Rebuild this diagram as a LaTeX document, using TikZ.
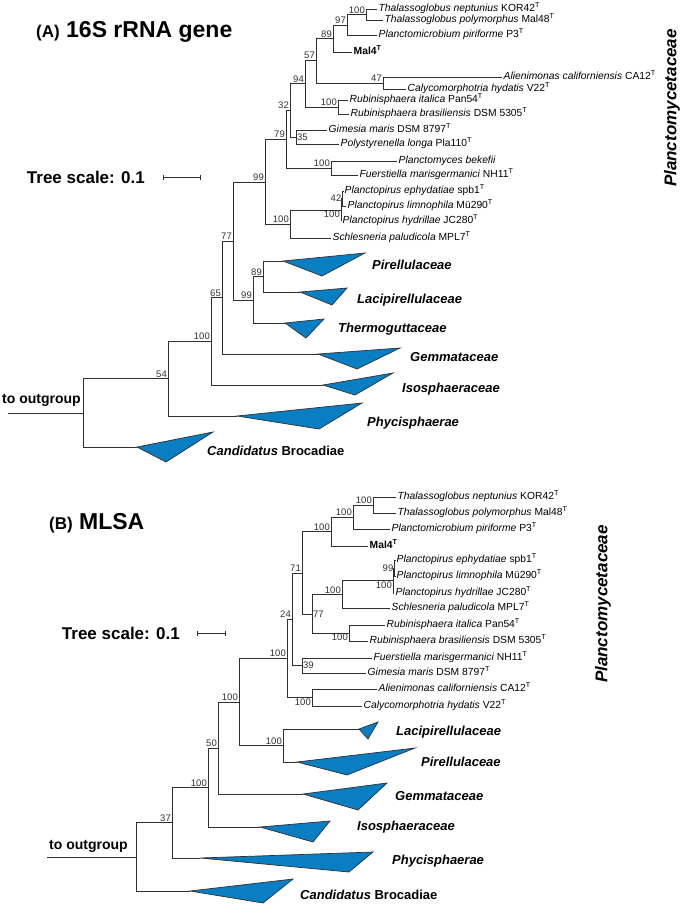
\documentclass[tikz,border=0pt]{standalone}
\usepackage{fontspec}
\setmainfont{Liberation Sans}
\usetikzlibrary{arrows.meta,positioning}
\definecolor{Clade}{HTML}{0A7EC2}
\definecolor{Branch}{HTML}{303030}
\newcommand\Tst{\textsuperscript{T}}

\begin{document}
\begin{tikzpicture}[x=1pt,y=-1pt,
  br/.style={draw=Branch,line width=0.8pt},
  tip/.style={anchor=west,inner xsep=1.5pt,inner ysep=0.2pt,font=\fontsize{10.3}{12}\selectfont,text height=7pt,text depth=2pt},
  bs/.style={inner sep=1pt,font=\fontsize{9.5}{10}\selectfont,text=Branch},
  clade/.style={fill=Clade,draw=Branch,line width=0.7pt},
  cladelab/.style={anchor=west,inner sep=0pt,font=\fontsize{13}{15}\selectfont\bfseries\itshape,text height=9.5pt,text depth=2.5pt},
  family/.style={rotate=90,inner sep=0pt,font=\fontsize{17}{19}\selectfont\bfseries\itshape},
  title/.style={anchor=west,inner sep=0pt,font=\fontsize{23}{26}\selectfont\bfseries},
  scalelab/.style={inner sep=0pt,font=\fontsize{17}{19}\selectfont\bfseries},
  outlab/.style={anchor=west,inner sep=0pt,font=\fontsize{14}{16}\selectfont\bfseries},
  scalebar/.style={br,{Bar[width=5pt]}-{Bar[width=5pt]}}]
\useasboundingbox (0,0) rectangle (685,906);

% ---------------- (A) 16S rRNA gene ----------------
\node[title] (titA) at (36,32) {{\fontsize{17}{20}\selectfont (A)} 16S rRNA gene};
\coordinate (sA1) at (163,177); \coordinate (sA2) at (201,177);
\draw[scalebar] (sA1) -- (sA2);
\node[scalelab,anchor=east,left=18pt of sA1] (scA) {Tree scale: 0.1};
\node[family] (famA) at (672,108) {Planctomycetaceae};

% internal nodes
\coordinate (aOut) at (8,413);  \coordinate (aR) at (83,413);
\coordinate (a54) at (168,378.5); \coordinate (a100) at (211,341);
\coordinate (a65) at (222,297.5); \coordinate (a77) at (233,241);
\coordinate (a99) at (265,182);   \coordinate (a99b) at (253,300);
\coordinate (a89b) at (263,276.5); \coordinate (aPS) at (290,224);
\coordinate (aPl) at (341,210);   \coordinate (a42) at (342.5,198.5);
\coordinate (a79) at (286,139);   \coordinate (aPm) at (331,168);
\coordinate (a32) at (290,110);   \coordinate (a35) at (296,137);
\coordinate (a94) at (305,83.5);  \coordinate (aRub) at (338,107);
\coordinate (a57) at (316,60);    \coordinate (a47) at (383,83);
\coordinate (a89) at (333,38.5);  \coordinate (a97) at (347,25);
\coordinate (aTh) at (366,14.5);

% tips
\node[tip] (tAThN) at (377,9) {\textit{Thalassoglobus neptunius} KOR42\Tst};
\node[tip] (tAThP) at (383,20) {\textit{Thalassoglobus polymorphus} Mal48\Tst};
\node[tip] (tAPmp) at (377,35) {\textit{Planctomicrobium piriforme} P3\Tst};
\node[tip] (tAMal) at (352,52) {\textbf{Mal4\Tst}};
\node[tip] (tAAli) at (502,77) {\textit{Alienimonas californiensis} CA12\Tst};
\node[tip] (tACal) at (406,89) {\textit{Calycomorphotria hydatis} V22\Tst};
\node[tip] (tARbI) at (348,100) {\textit{Rubinisphaera italica} Pan54\Tst};
\node[tip] (tARbB) at (349,114) {\textit{Rubinisphaera brasiliensis} DSM 5305\Tst};
\node[tip] (tAGim) at (327,130) {\textit{Gimesia maris} DSM 8797\Tst};
\node[tip] (tAPol) at (339,144) {\textit{Polystyrenella longa} Pla110\Tst};
\node[tip] (tAPlb) at (397,161) {\textit{Planctomyces bekefii}};
\node[tip] (tAFue) at (358,175) {\textit{Fuerstiella marisgermanici} NH11\Tst};
\node[tip] (tAPeph) at (343,191) {\textit{Planctopirus ephydatiae} spb1\Tst};
\node[tip] (tAPlim) at (346,206) {\textit{Planctopirus limnophila} Mü290\Tst};
\node[tip] (tAPhyd) at (341,221) {\textit{Planctopirus hydrillae} JC280\Tst};
\node[tip] (tASch) at (331,238) {\textit{Schlesneria paludicola} MPL7\Tst};

% collapsed clades
\coordinate (cAPir) at (283,261);  \coordinate (cALac) at (300,292);
\coordinate (cAThe) at (285,323);  \coordinate (cAGem) at (318,354);
\coordinate (cAIso) at (323,385);  \coordinate (cAPhy) at (237,416);
\coordinate (cABro) at (137,447);
\filldraw[clade] (cAPir) -- (365,253) -- (322,276) -- cycle;
\filldraw[clade] (cALac) -- (347,288) -- (332,305) -- cycle;
\filldraw[clade] (cAThe) -- (324,319) -- (306,338) -- cycle;
\filldraw[clade] (cAGem) -- (400,348) -- (357,369) -- cycle;
\filldraw[clade] (cAIso) -- (393,373) -- (355,395) -- cycle;
\filldraw[clade] (cAPhy) -- (362,403) -- (319,429) -- cycle;
\filldraw[clade] (cABro) -- (213,432) -- (166,462) -- cycle;
\node[cladelab] (kAPir) at (372,266) {Pirellulaceae};
\node[cladelab] (kALac) at (357,300) {Lacipirellulaceae};
\node[cladelab] (kAThe) at (338,329) {Thermoguttaceae};
\node[cladelab] (kAGem) at (410,358) {Gemmataceae};
\node[cladelab] (kAIso) at (402,389) {Isosphaeraceae};
\node[cladelab] (kAPhy) at (367,423) {Phycisphaerae};
\node[cladelab] (kABro) at (207,452) {Candidatus \upshape Brocadiae};
\node[outlab] (oA) at (2,400) {to outgroup};

% branches
\draw[br] (aOut) -- (aR);
\draw[br] (aR) |- (a54) (aR) |- (cABro);
\draw[br] (a54) |- (a100) (a54) |- (cAPhy);
\draw[br] (a100) |- (a65) (a100) |- (cAIso);
\draw[br] (a65) |- (a77) (a65) |- (cAGem);
\draw[br] (a77) |- (a99) (a77) |- (a99b);
\draw[br] (a99b) |- (a89b) (a99b) |- (cAThe);
\draw[br] (a89b) |- (cAPir) (a89b) |- (cALac);
\draw[br] (a99) |- (a79) (a99) |- (aPS);
\draw[br] (aPS) |- (aPl) (aPS) |- (tASch.west);
\draw[br] (aPl) |- (a42) (aPl) |- (tAPhyd.west);
\draw[br] (a42) |- (tAPeph.west) (a42) |- (tAPlim.west);
\draw[br] (a79) |- (a32) (a79) |- (aPm);
\draw[br] (aPm) |- (tAPlb.west) (aPm) |- (tAFue.west);
\draw[br] (a32) |- (a94) (a32) |- (a35);
\draw[br] (a35) |- (tAGim.west) (a35) |- (tAPol.west);
\draw[br] (a94) |- (a57) (a94) |- (aRub);
\draw[br] (aRub) |- (tARbI.west) (aRub) |- (tARbB.west);
\draw[br] (a57) |- (a89) (a57) |- (a47);
\draw[br] (a47) |- (tAAli.west) (a47) |- (tACal.west);
\draw[br] (a89) |- (a97) (a89) |- (tAMal.west);
\draw[br] (a97) |- (aTh) (a97) |- (tAPmp.west);
\draw[br] (aTh) |- (tAThN.west) (aTh) |- (tAThP.west);

% support values
\node[bs,above left] (lA54) at (a54) {54};
\node[bs,above left] (lA100) at (a100) {100};
\node[bs,above left] (lA65) at (a65) {65};
\node[bs,above left] (lA77) at (a77) {77};
\node[bs,above left] (lA99) at (a99) {99};
\node[bs,above left] (lA99b) at (a99b) {99};
\node[bs,above left] (lA89b) at (a89b) {89};
\node[bs,above left] (lAPS) at (aPS) {100};
\node[bs,below left] (lAPl) at (aPl) {100};
\node[bs,left] (lA42) at (a42) {42};
\node[bs,above left] (lA79) at (a79) {79};
\node[bs,above left] (lAPm) at (aPm) {100};
\node[bs,above left] (lA32) at (a32) {32};
\node[bs,right] (lA35) at (a35) {35};
\node[bs,above left] (lA94) at (a94) {94};
\node[bs,above left] (lARub) at (aRub) {100};
\node[bs,above left] (lA57) at (a57) {57};
\node[bs,above left] (lA47) at (a47) {47};
\node[bs,above left] (lA89) at (a89) {89};
\node[bs,above left] (lA97) at (a97) {97};
\node[bs,above left] (lATh) at (aTh) {100};

% ---------------- (B) MLSA ----------------
\node[title] (titB) at (49,523) {{\fontsize{17}{20}\selectfont (B)} MLSA};
\coordinate (sB1) at (197,633); \coordinate (sB2) at (226,633);
\draw[scalebar] (sB1) -- (sB2);
\node[scalelab,anchor=east,left=17pt of sB1] (scB) {Tree scale: 0.1};
\node[family] (famB) at (603,604) {Planctomycetaceae};

\coordinate (bOut) at (47,857);  \coordinate (bR) at (136,857);
\coordinate (b37) at (172,822.5); \coordinate (b100) at (208,787.5);
\coordinate (b50) at (218,748);   \coordinate (b100c) at (239,702);
\coordinate (b100d) at (287,658); \coordinate (b24) at (292,619);
\coordinate (b71) at (302,573);   \coordinate (b100t) at (331,531.5);
\coordinate (b100s) at (353,517); \coordinate (bTh) at (373,505);
\coordinate (b77) at (312,614);   \coordinate (bPS) at (342,594.5);
\coordinate (bPl) at (393,580.5); \coordinate (b99) at (394.5,568);
\coordinate (bRub) at (349,633);  \coordinate (b39) at (302,665.5);
\coordinate (bAl) at (312,697.5); \coordinate (bLP) at (283,745.5);

\node[tip] (tBThN) at (396,497) {\textit{Thalassoglobus neptunius} KOR42\Tst};
\node[tip] (tBThP) at (396,513) {\textit{Thalassoglobus polymorphus} Mal48\Tst};
\node[tip] (tBPmp) at (390,529) {\textit{Planctomicrobium piriforme} P3\Tst};
\node[tip] (tBMal) at (368,546) {\textbf{Mal4\Tst}};
\node[tip] (tBPeph) at (395,560) {\textit{Planctopirus ephydatiae} spb1\Tst};
\node[tip] (tBPlim) at (395,576) {\textit{Planctopirus limnophila} Mü290\Tst};
\node[tip] (tBPhyd) at (394,593) {\textit{Planctopirus hydrillae} JC280\Tst};
\node[tip] (tBSch) at (390,608) {\textit{Schlesneria paludicola} MPL7\Tst};
\node[tip] (tBRbI) at (385,625) {\textit{Rubinisphaera italica} Pan54\Tst};
\node[tip] (tBRbB) at (368,641) {\textit{Rubinisphaera brasiliensis} DSM 5305\Tst};
\node[tip] (tBFue) at (372,658) {\textit{Fuerstiella marisgermanici} NH11\Tst};
\node[tip] (tBGim) at (366,673) {\textit{Gimesia maris} DSM 8797\Tst};
\node[tip] (tBAli) at (377,689) {\textit{Alienimonas californiensis} CA12\Tst};
\node[tip] (tBCal) at (362,706) {\textit{Calycomorphotria hydatis} V22\Tst};

\coordinate (cBLac) at (359,729); \coordinate (cBPir) at (297,762);
\coordinate (cBGem) at (303,794); \coordinate (cBIso) at (260,827);
\coordinate (cBPhy) at (200,858); \coordinate (cBBro) at (190,891);
\filldraw[clade] (cBLac) -- (378,722) -- (368,739) -- cycle;
\filldraw[clade] (cBPir) -- (415,748) -- (347,775) -- cycle;
\filldraw[clade] (cBGem) -- (387,783) -- (358,810) -- cycle;
\filldraw[clade] (cBIso) -- (330,821) -- (313,842) -- cycle;
\filldraw[clade] (cBPhy) -- (373,852) -- (349,872) -- cycle;
\filldraw[clade] (cBBro) -- (293,879) -- (263,903) -- cycle;
\node[cladelab] (kBLac) at (396,732) {Lacipirellulaceae};
\node[cladelab] (kBPir) at (421,763) {Pirellulaceae};
\node[cladelab] (kBGem) at (395,797) {Gemmataceae};
\node[cladelab] (kBIso) at (357,827) {Isosphaeraceae};
\node[cladelab] (kBPhy) at (392,861) {Phycisphaerae};
\node[cladelab] (kBBro) at (300,896) {Candidatus \upshape Brocadiae};
\node[outlab] (oB) at (49,846) {to outgroup};

\draw[br] (bOut) -- (bR);
\draw[br] (bR) |- (b37) (bR) |- (cBBro);
\draw[br] (b37) |- (b100) (b37) |- (cBPhy);
\draw[br] (b100) |- (b50) (b100) |- (cBIso);
\draw[br] (b50) |- (b100c) (b50) |- (cBGem);
\draw[br] (b100c) |- (b100d) (b100c) |- (bLP);
\draw[br] (bLP) |- (cBLac) (bLP) |- (cBPir);
\draw[br] (b100d) |- (b24) (b100d) |- (bAl);
\draw[br] (bAl) |- (tBAli.west) (bAl) |- (tBCal.west);
\draw[br] (b24) |- (b71) (b24) |- (b39);
\draw[br] (b39) |- (tBFue.west) (b39) |- (tBGim.west);
\draw[br] (b71) |- (b100t) (b71) |- (b77);
\draw[br] (b77) |- (bPS) (b77) |- (bRub);
\draw[br] (bRub) |- (tBRbI.west) (bRub) |- (tBRbB.west);
\draw[br] (bPS) |- (bPl) (bPS) |- (tBSch.west);
\draw[br] (bPl) |- (b99) (bPl) |- (tBPhyd.west);
\draw[br] (b99) |- (tBPeph.west) (b99) |- (tBPlim.west);
\draw[br] (b100t) |- (b100s) (b100t) |- (tBMal.west);
\draw[br] (b100s) |- (bTh) (b100s) |- (tBPmp.west);
\draw[br] (bTh) |- (tBThN.west) (bTh) |- (tBThP.west);

\node[bs,above left] (lB37) at (b37) {37};
\node[bs,above left] (lB100) at (b100) {100};
\node[bs,above left] (lB50) at (b50) {50};
\node[bs,above left] (lB100c) at (b100c) {100};
\node[bs,above left] (lB100d) at (b100d) {100};
\node[bs,above left] (lB24) at (b24) {24};
\node[bs,above left] (lB71) at (b71) {71};
\node[bs,above left] (lB100t) at (b100t) {100};
\node[bs,above left] (lB100s) at (b100s) {100};
\node[bs,above left] (lBTh) at (bTh) {100};
\node[bs,right] (lB77) at (b77) {77};
\node[bs,above left] (lBPS) at (bPS) {100};
\node[bs,left] (lB99) at (b99) {99};
\node[bs,below left] (lBPl) at (bPl) {100};
\node[bs,below left] (lBRub) at (bRub) {100};
\node[bs,right] (lB39) at (b39) {39};
\node[bs,below left] (lBAl) at (bAl) {100};
\node[bs,above left] (lBLP) at (bLP) {100};
\end{tikzpicture}
\end{document}
